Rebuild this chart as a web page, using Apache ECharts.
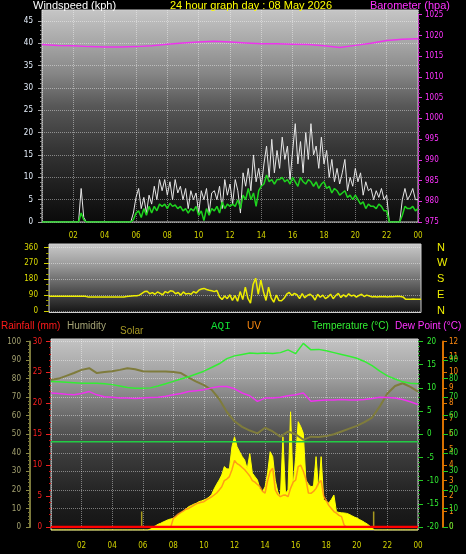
<!DOCTYPE html>
<html><head><meta charset="utf-8">
<script src="https://cdn.jsdelivr.net/npm/echarts@6/dist/echarts.min.js"></script>
<style>html,body{margin:0;padding:0;background:#000;}#c{width:466px;height:554px;}</style>
</head><body><div id="c"></div>
<script>
// ---------- data ----------
const chartTitle = '24 hour graph day : 08 May 2026';
const compassLabels = { 0: 'N', 90: 'E', 180: 'S', 270: 'W', 360: 'N' };

// 10-minute samples, 00:00 .. 24:00 (145 values)
const windGust = [
 0,0,0,0,0,0, 0,0,0,0,0,0, 0,0,0,7.5,1,0, 0,0,0,0,0,0, 0,0,0,0,0,0, 0,0,0,0,0,2,
 5.5,7.5,3,5.5,2,6, 4,8,5,9.5,7,9.5, 6,9,5,9.5,6.5,8, 5,7.5,3,7,5,6.5,
 2,7,5,7.5,2,6.5, 7,5,8,3,9.5,6, 8.5,4,9.5,7,2,11, 8,12,7,15,9,12,
 8,13,17,10,18.5,11, 16,12,19,14,17,9.5, 16,22,13,18,11,20, 14,22,15,17,12,19,
 13,16,10,14,9,12, 8.5,11,14,7,10,8, 12,9,11,6,9,7, 7.5,5,7,5.5,7.5,5,
 6,0,0,0,0,0, 5,7.5,5,6,7.5,5, 5];
const windAvg = [
 0,0,0,0,0,0, 0,0,0,0,0,0, 0,0,0,2,0.5,0, 0,0,0,0,0,0, 0,0,0,0,0,0, 0,0,0,0,0,0.5,
 2,2.5,1,3,1.5,3.5, 2,3.5,2.5,4,3.5,4, 3,4.2,3.5,3.8,3,3.5, 2.5,3,2,3,2.5,3.5,
 1.5,2.5,0.3,3,1.5,3, 2.5,3.5,2,4.5,3,4, 3.5,4,3.5,5,3,6, 5,7.5,5,6.5,3.5,7,
 8,8.5,10.5,9,9.5,8.5, 9.5,9.5,10,9,9.5,8.5, 10,9,8,10,9,8.5, 9.5,9,8,9,7.5,8.5,
 9,7.5,8,6.5,7.5,7, 6,6.5,7,5.5,6,5, 6,5,4,4.5,3,4, 3.5,3.5,3,4,3.5,2.5,
 2.5,0,0,0,0,0, 1.5,3.5,3,3,3.5,2.5, 3];
const windDir = [
 84,84,84,84,84,84, 84,84,84,84,84,84, 84,84,84,80,79,79, 79,79,79,79,79,79,
 79,79,79,79,79,79, 82,84,85,86,86,90, 100,110,112,98,104,95, 108,100,92,110,103,115,
 112,98,105,90,108,96, 100,95,110,102,118,125, 128,122,118,115,110,116, 80,65,85,70,92,60,
 88,55,110,65,135,72, 45,150,186,95,175,110, 60,135,75,50,90,60, 58,72,95,105,88,100,
 92,70,98,75,88,95, 85,62,95,78,90,70, 80,95,70,88,100,76, 92,80,98,85,90,78,
 88,95,82,90,85,80, 82,80,82,81,82,80, 82,81,82,83,82,80, 67,67,66,68,67,67, 67];
const solar = [
 0,0,0,0,0,0, 0,0,0,0,0,0, 0,0,0,0,0,0, 0,0,0,0,0,0, 0,0,0,0,0,0, 0,0,0,0,0,0,
 0,0,0,5,15,22, 30,35,42,48,54,58, 61,70,80,90,100,110, 122,128,135,140,148,152,
 157,163,172,185,215,240, 262,288,332,320,320,436, 488,436,410,385,366,320, 400,298,280,262,215,200,
 227,300,410,384,260,200, 174,488,192,209,619,227, 384,567,541,506,262,240, 227,230,384,209,384,157,
 150,141,160,183,96,92, 90,89,87,82,75,68, 63,55,48,40,32,22, 10,0,0,0,0,0,
 0,0,0,0,0,0, 0,0,0,0,0,0, 0];
const uvIndex = [
 0,0,0,0,0,0, 0,0,0,0,0,0, 0,0,0,0,0,0, 0,0,0,0,0,0, 0,0,0,0,0,0, 0,0,0,0,0,0,
 0,0,0,0,0,0, 0,0,0,0,0,0, 0.56,0.7,0.85,0.95,1.05,1.15, 1.2,1.3,1.4,1.5,1.55,1.6,
 1.64,1.75,1.85,1.95,2.07,2.2, 2.4,2.6,3.0,3.1,3.26,3.7, 4.3,4.1,4.0,3.85,3.7,3.5, 3.3,3.0,2.9,2.75,2.6,2.3,
 2.2,3.0,3.6,3.8,2.4,2.1, 1.96,2.05,2.07,1.96,2.5,2.9, 3.04,3.9,4.0,3.6,3.1,2.2, 2.18,2.3,2.5,2.85,3.0,2.0,
 1.7,1.4,1.2,1.0,0.89,0.75, 0.67,0.13,0,0,0,0, 0,0,0,0,0,0, 0,0,0,0,0,0,
 0,0,0,0,0,0, 0,0,0,0,0,0, 0];

// 30-minute samples (49 values)
const humidity = [79.3,80,81.5,83,84.7,85.6,83,83.5,84,84.7,85.6,85,84,83.8,83.8,83.8,83.5,83,80.5,78.4,
 76.5,74,69,62,57,54,52,50.5,53.5,51.5,48.7,51.5,50,47,48.7,48.5,49,50,51.5,53,54.5,56.5,59,65,72,76,77.5,75.5,73];
const temperature = [11.4,11.3,11.2,11.1,11.0,11.0,11.0,10.9,10.7,10.4,10.1,9.9,9.9,10.0,10.4,10.9,11.4,11.9,12.4,13.0,
 13.6,14.4,15.2,16.3,16.9,17.2,17.5,17.4,17.5,17.4,17.6,18.2,17.4,19.6,18.2,18.3,18.0,17.6,17.2,16.8,16.4,15.7,14.8,13.6,12.6,11.9,11.3,11.0,10.9];
const dewPoint = [8.9,8.8,8.6,8.5,8.8,9.2,8.5,8.1,8.0,7.8,7.8,7.7,7.8,7.9,8.0,8.2,8.5,8.8,9.2,9.4,
 9.6,10.0,10.3,10.3,9.8,8.9,8.3,7.1,7.8,7.8,8.0,8.3,8.5,8.9,7.1,7.3,7.4,7.4,7.5,7.4,7.4,7.5,7.7,8.0,7.9,7.8,7.5,7.0,6.4];

// hourly samples (25 values)
const barometer = [1017.8,1017.6,1017.5,1017.3,1017.2,1017.2,1017.3,1017.5,1017.9,1018.2,1018.4,1018.6,1018.4,
 1018.2,1018.0,1018.0,1017.9,1017.8,1017.5,1017.1,1017.6,1018.1,1018.8,1019.1,1019.2];
const aqi = [46,46,46,46,46,46,46,46,46,46,46,46,46,46,46,46,46,46,46,46,46,46,46,46,46];
const rainfall = [0,0,0,0,0,0,0,0,0,0,0,0,0,0,0,0,0,0,0,0,0,0,0,0,0];

const sunrise = 5.93, sunset = 21.1; // hours
const sunMarkHeight = 1;

// ---------- helpers ----------
const toPairs = (arr, step) => arr.map((v, i) => [i * step, v]);
const NARROW = "'Liberation Sans Narrow','Arial Narrow','DejaVu Sans Condensed',sans-serif";
const SANS = "'Liberation Sans',Arial,sans-serif";
const grad = (stops) => new echarts.graphic.LinearGradient(0, 0, 0, 1, stops.map(([o, c]) => ({ offset: o, color: c })));
const hourFmt = v => v === 0 ? '' : String(v % 24).padStart(2, '0');
const plain = v => String(v);
const dotted = { show: true, lineStyle: { type: 'dotted', color: 'rgba(255,255,255,0.42)', width: 1 } };
const tickLbl = (color, margin, extra) => Object.assign({ color, fontSize: 8, fontFamily: NARROW, margin, formatter: plain }, extra || {});

const chart = echarts.init(document.getElementById('c'), null, { renderer: 'canvas' });

const topStops = [[0, '#c6c6c6'], [0.15, '#a8a8a8'], [0.3, '#868686'], [0.45, '#585858'], [0.65, '#363636'], [0.85, '#1c1c1c'], [1, '#0a0a0a']];
const midStops = [[0, '#cacaca'], [0.3, '#9c9c9c'], [0.55, '#6a6a6a'], [0.8, '#383838'], [1, '#141414']];
const botStops = [[0, '#c4c4c4'], [0.2, '#a0a0a0'], [0.35, '#787878'], [0.46, '#5a5a5a'], [0.6, '#3c3c3c'], [0.75, '#2a2a2a'], [0.88, '#1c1c1c'], [1, '#141414']];

const hidX = (g) => ({ gridIndex: g, type: 'value', min: 0, max: 24, show: false });
const hidY = (g, min, max) => ({ gridIndex: g, type: 'value', min, max, show: false });
const line = (name, x, y, data, color, width, z, extra) => Object.assign({
  name, type: 'line', xAxisIndex: x, yAxisIndex: y, data, showSymbol: false, symbol: 'none',
  lineStyle: { color, width }, itemStyle: { color }, z, animation: false, silent: true
}, extra || {});

const option = {
  backgroundColor: '#000',
  animation: false,
  grid: [
    { left: 42, top: 10, width: 376, height: 212, show: true, backgroundColor: grad(topStops), borderColor: '#cfcfcf', borderWidth: 1 },
    { left: 42, top: 20.9, width: 376, height: 201.1 },
    { left: 42, top: 14.7, width: 376, height: 207.3 },
    { left: 49, top: 244, width: 372, height: 68.5, show: true, backgroundColor: grad(midStops), borderColor: '#cfcfcf', borderWidth: 1 },
    { left: 49, top: 247.5, width: 372, height: 63.5 },
    { left: 51, top: 339, width: 367, height: 191, show: true, backgroundColor: grad(botStops), borderColor: '#cfcfcf', borderWidth: 1 },
    { left: 51, top: 341.5, width: 367, height: 185.5 }
  ],
  xAxis: [
    { gridIndex: 0, type: 'value', min: 0, max: 24, interval: 2,
      axisLine: { show: false, onZero: false }, axisTick: { show: false },
      axisLabel: { color: '#d2d200', fontSize: 8, fontFamily: NARROW, margin: 10, formatter: hourFmt },
      splitLine: dotted },
    hidX(1), hidX(2),
    { gridIndex: 3, type: 'value', min: 0, max: 24, interval: 2, axisLine: { show: false, onZero: false },
      axisTick: { show: false }, axisLabel: { show: false }, splitLine: { show: false } },
    hidX(4),
    { gridIndex: 5, type: 'value', min: 0, max: 24, interval: 2,
      axisLine: { show: false, onZero: false }, axisTick: { show: false },
      axisLabel: { color: '#d2d200', fontSize: 8, fontFamily: NARROW, margin: 12, formatter: hourFmt },
      splitLine: dotted },
    hidX(6)
  ],
  yAxis: [
    hidY(0, 0, 1),                                                     // 0
    { gridIndex: 1, type: 'value', position: 'left', min: 0, max: 45, interval: 5,   // 1 wind
      axisLine: { show: false, onZero: false },
      axisTick: { show: true, length: 4, lineStyle: { color: '#a0a0a0' } },
      minorTick: { show: true, splitNumber: 5, length: 2, lineStyle: { color: '#8a8a8a' } },
      axisLabel: tickLbl('#e8f2ff', 9), splitLine: dotted },
    { gridIndex: 2, type: 'value', position: 'right', min: 975, max: 1025, interval: 5, // 2 baro
      axisLine: { show: true, onZero: false, lineStyle: { color: '#cc33cc', type: 'dotted' } },
      axisTick: { show: true, length: 4, lineStyle: { color: '#dd33dd' } },
      minorTick: { show: true, splitNumber: 5, length: 2, lineStyle: { color: '#aa22aa' } },
      axisLabel: tickLbl('#ff33ff', 7), splitLine: { show: false } },
    hidY(3, 0, 1),                                                     // 3
    { gridIndex: 4, type: 'value', position: 'left', min: 0, max: 360, interval: 90,  // 4 dir
      axisLine: { show: false, onZero: false },
      axisTick: { show: true, length: 5, lineStyle: { color: '#cccc00' } },
      minorTick: { show: true, splitNumber: 3, length: 3, lineStyle: { color: '#999900' } },
      axisLabel: tickLbl('#dddd00', 11), splitLine: dotted },
    { gridIndex: 4, type: 'value', position: 'right', min: 0, max: 360, interval: 90, // 5 compass
      axisLine: { show: false, onZero: false }, axisTick: { show: false }, splitLine: { show: false },
      axisLabel: { color: '#eeee00', fontSize: 11, fontFamily: SANS, margin: 16, formatter: v => compassLabels[v] || '' } },
    hidY(5, 0, 1000),                                                  // 6 solar
    { gridIndex: 6, type: 'value', position: 'left', min: 0, max: 30, interval: 5,   // 7 rain
      axisLine: { show: false, onZero: false },
      axisTick: { show: true, length: 5, lineStyle: { color: '#ee2020' } },
      minorTick: { show: true, splitNumber: 5, length: 2, lineStyle: { color: '#cc1010' } },
      axisLabel: tickLbl('#ff2020', 9), splitLine: { show: false } },
    { gridIndex: 6, type: 'value', position: 'left', offset: 21, min: 0, max: 100, interval: 10, // 8 humidity
      axisLine: { show: true, onZero: false, lineStyle: { color: '#7c7a3c', width: 2 } },
      axisTick: { show: true, length: 4, lineStyle: { color: '#8a8845' } },
      minorTick: { show: true, splitNumber: 5, length: 2, lineStyle: { color: '#7a7835' } },
      axisLabel: tickLbl('#a4a270', 9), splitLine: dotted },
    { gridIndex: 6, type: 'value', position: 'right', min: -20, max: 20, interval: 5, // 9 temp
      axisLine: { show: false, onZero: false },
      axisTick: { show: true, length: 5, lineStyle: { color: '#22cc22' } },
      minorTick: { show: true, splitNumber: 5, length: 2, lineStyle: { color: '#1a9a1a' } },
      axisLabel: tickLbl('#33ee33', 9), splitLine: { show: false } },
    { gridIndex: 6, type: 'value', position: 'right', offset: 25, min: 0, max: 12, interval: 1, // 10 uv
      axisLine: { show: true, onZero: false, lineStyle: { color: '#d87000', width: 2 } },
      axisTick: { show: true, length: 4, lineStyle: { color: '#e07800' } },
      axisLabel: tickLbl('#ff8a10', 6), splitLine: { show: false } },
    { gridIndex: 6, type: 'value', position: 'right', offset: 25, min: 0, max: 100, interval: 10, // 11 aqi
      axisLine: { show: false, onZero: false },
      axisTick: { show: true, length: 5, lineStyle: { color: '#22cc22' } },
      axisLabel: tickLbl('#33dd33', 6, { showMaxLabel: false }), splitLine: { show: false } }
  ],
  graphic: [
    { type: 'text', x: 33, y: 5.5, style: { text: 'Windspeed (kph)', fill: '#ffffff', font: '11px ' + SANS, textVerticalAlign: 'middle', verticalAlign: 'middle' } },
    { type: 'text', x: 251, y: 5.5, style: { text: chartTitle, fill: '#ffff00', font: '11px ' + SANS, textAlign: 'center', align: 'center', textVerticalAlign: 'middle', verticalAlign: 'middle' } },
    { type: 'text', x: 450, y: 5.5, style: { text: 'Barometer (hpa)', fill: '#ff33ff', font: '11px ' + SANS, textAlign: 'right', align: 'right', textVerticalAlign: 'middle', verticalAlign: 'middle' } },
    { type: 'text', x: 1, y: 326, style: { text: 'Rainfall (mm)', fill: '#ff1a1a', font: '10px ' + SANS, textVerticalAlign: 'middle', verticalAlign: 'middle' } },
    { type: 'text', x: 67, y: 326, style: { text: 'Humidity', fill: '#a4a274', font: '10px ' + SANS, textVerticalAlign: 'middle', verticalAlign: 'middle' } },
    { type: 'text', x: 120, y: 331, style: { text: 'Solar', fill: '#a89a26', font: '10px ' + SANS, textVerticalAlign: 'middle', verticalAlign: 'middle' } },
    { type: 'text', x: 211, y: 326, style: { text: 'AQI', fill: '#11dd33', font: '11px "Liberation Mono",monospace', textVerticalAlign: 'middle', verticalAlign: 'middle' } },
    { type: 'text', x: 247, y: 326, style: { text: 'UV', fill: '#ff8a10', font: '10px ' + SANS, textVerticalAlign: 'middle', verticalAlign: 'middle' } },
    { type: 'text', x: 312, y: 326, style: { text: 'Temperature (°C)', fill: '#33ee33', font: '10px ' + SANS, textVerticalAlign: 'middle', verticalAlign: 'middle' } },
    { type: 'text', x: 395, y: 326, style: { text: 'Dew Point (°C)', fill: '#ff33ff', font: '10px ' + SANS, textVerticalAlign: 'middle', verticalAlign: 'middle' } }
  ],
  series: [
    line('gust', 1, 1, toPairs(windGust, 1 / 6), '#e6e6e6', 1, 3),
    line('avg', 1, 1, toPairs(windAvg, 1 / 6), '#1ed41e', 1.5, 4),
    line('baro', 2, 2, toPairs(barometer, 1), '#ee33ee', 1.5, 5),
    line('dir', 4, 4, toPairs(windDir, 1 / 6), '#eeee00', 1.5, 3),
    line('solar', 5, 6, toPairs(solar, 1 / 6), '#ffff00', 1, 2, { areaStyle: { color: '#ffff00', opacity: 1 } }),
    line('sunrise', 6, 10, [[sunrise, 0], [sunrise, sunMarkHeight]], '#a89a20', 1.5, 3),
    line('sunset', 6, 10, [[sunset, 0], [sunset, sunMarkHeight]], '#a89a20', 1.5, 3),
    line('uv', 6, 10, toPairs(uvIndex, 1 / 6), '#ff8c1a', 1.5, 4, { lineStyle: { color: '#ff8c1a', width: 1.5, opacity: 0.85 } }),
    line('humidity', 6, 8, toPairs(humidity, 0.5), '#7f7c3c', 2, 5),
    line('dew', 6, 9, toPairs(dewPoint, 0.5), '#ee33ee', 1.5, 6),
    line('temp', 6, 9, toPairs(temperature, 0.5), '#33ee33', 1.5, 6),
    line('aqi', 6, 11, toPairs(aqi, 1), '#22cc44', 1.5, 7),
    line('rain', 6, 7, toPairs(rainfall, 1), '#ff0000', 2.5, 8)
  ]
};
chart.setOption(option);
</script>
</body></html>
